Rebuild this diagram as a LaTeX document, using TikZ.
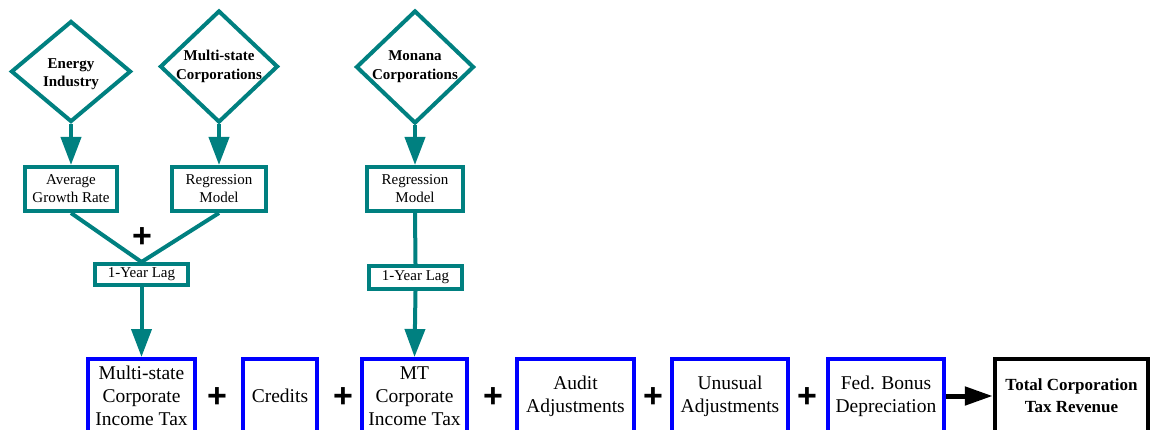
\documentclass[tikz,border=0pt]{standalone}
\usepackage{fontspec}
\setmainfont{Liberation Serif}
\newfontfamily\plusfont{Liberation Sans}
\usetikzlibrary{shapes.geometric,arrows.meta}
\definecolor{tealline}{RGB}{0,128,128}
\definecolor{boxblue}{RGB}{0,0,255}
\tikzset{
  diam/.style={diamond,draw=tealline,line width=4pt,fill=white,inner sep=0pt},
  dtext/.style={font=\bfseries\fontsize{15}{18.5}\selectfont,align=center,inner sep=0pt},
  tbox/.style={rectangle,draw=tealline,line width=4pt,fill=white,inner sep=0pt,
    align=center,font=\fontsize{15}{18}\selectfont},
  bbox/.style={rectangle,draw=boxblue,line width=4pt,fill=white,inner sep=0pt,
    minimum height=74pt,align=center,font=\fontsize{19.5}{23}\selectfont},
  totbox/.style={rectangle,draw=black,line width=4.5pt,fill=white,inner sep=0pt,
    minimum height=74pt,align=center,font=\bfseries\fontsize{17}{22}\selectfont},
  tline/.style={draw=tealline,line width=4pt},
  tarrow/.style={tline,-{Triangle[length=28pt,width=20pt]}},
  barrow/.style={draw=black,line width=5pt,-{Triangle[length=28pt,width=18pt]}},
  plussign/.style={font=\plusfont\bfseries\fontsize{34}{34}\selectfont,inner sep=0pt}
}
\begin{document}
\begin{tikzpicture}[x=1pt,y=-1pt]
\useasboundingbox (0,0) rectangle (1153,430);
\clip (0,0) rectangle (1153,430);

% source diamonds
\node[diam,minimum width=120pt,minimum height=101pt] (en) at (71,71.5) {};
\node[dtext] (enlbl) at (71,74) {Energy\\Industry};
\node[diam,minimum width=118pt,minimum height=112pt] (ms) at (219,66.5) {};
\node[dtext] (mslbl) at (219,66.5) {Multi-state\\Corporations};
\node[diam,minimum width=118pt,minimum height=113pt] (mo) at (415,67) {};
\node[dtext] (molbl) at (415,66.5) {Monana\\Corporations};

% model boxes
\node[tbox,minimum width=92pt,minimum height=44pt] (agr) at (71,189) {Average\\Growth Rate};
\node[tbox,minimum width=94pt,minimum height=44pt] (regL) at (219,189) {Regression\\Model};
\node[tbox,minimum width=96pt,minimum height=44pt] (regR) at (415,189) {Regression\\Model};

% lag boxes
\node[tbox,minimum width=93pt,minimum height=21pt] (lagL) at (141.5,274.5) {1-Year Lag};
\node[tbox,minimum width=93pt,minimum height=23pt] (lagR) at (415.5,277.5) {1-Year Lag};

% revenue components
\node[bbox,minimum width=107pt] (mcit) at (141.5,396) {Multi-state\\Corporate\\Income Tax};
\node[bbox,minimum width=74pt] (cred) at (280,396) {Credits};
\node[bbox,minimum width=105pt] (mtcit) at (414.5,396) {MT\\Corporate\\Income Tax};
\node[bbox,minimum width=117pt] (audit) at (575.5,396) {Audit\\Adjustments};
\node[bbox,minimum width=116pt] (unus) at (730,396) {Unusual\\Adjustments};
\node[bbox,minimum width=116pt] (fed) at (886,396) {Fed. Bonus\\Depreciation};
\node[totbox,minimum width=153pt] (tot) at (1071.5,396) {Total Corporation\\Tax Revenue};

% connectors
\draw[tarrow] (en.south) -- (agr.north);
\draw[tarrow] (ms.south) -- (regL.north);
\draw[tarrow] (mo.south) -- (regR.north);
\draw[tline] (agr.south) -- (lagL.north);
\draw[tline] (regL.south) -- (lagL.north);
\draw[tline] (regR.south) -- (lagR.north);
\draw[tarrow] (lagL.south) -- (mcit.north);
\draw[tarrow] (lagR.south) -- (mtcit.north);
\draw[barrow] (fed.east) -- (tot.west);

% plus signs
\node[plussign] (p0) at (142,238) {+};
\node[plussign] (p1) at (217,398) {+};
\node[plussign] (p2) at (343,398) {+};
\node[plussign] (p3) at (493,398) {+};
\node[plussign] (p4) at (653,398) {+};
\node[plussign] (p5) at (807,398) {+};
\end{tikzpicture}
\end{document}
